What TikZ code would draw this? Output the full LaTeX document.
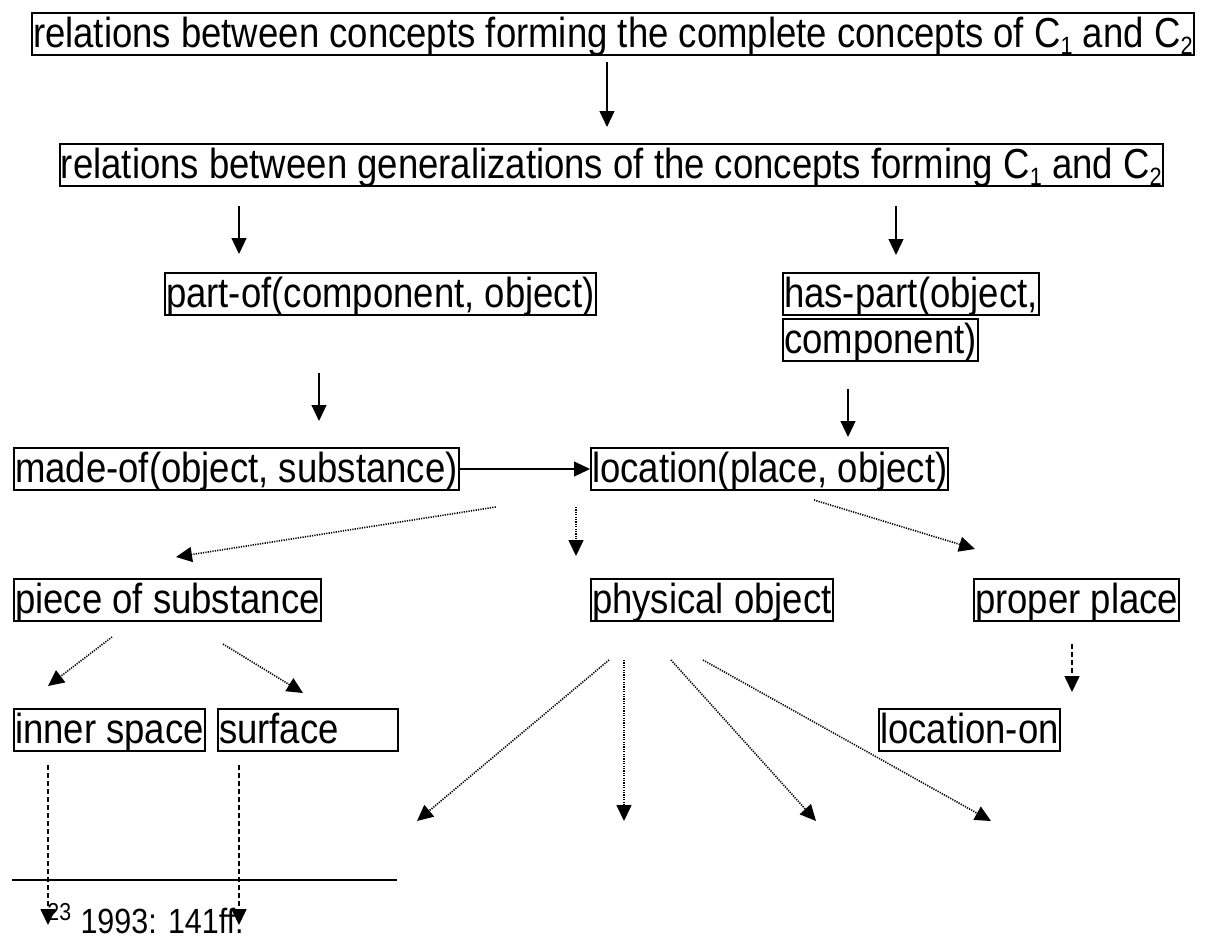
\documentclass[tikz,border=0pt]{standalone}
\usepackage{fontspec}
\setmainfont{Liberation Sans}[FakeStretch=0.87]
\usetikzlibrary{positioning,arrows.meta}
\newcommand{\csub}[1]{\raisebox{-0.18em}{\fontsize{12.5pt}{13pt}\selectfont #1}}
\tikzstyle{concept} = [draw=black, line width=1pt, inner xsep=0.5pt, inner ysep=0pt, text height=17pt, text depth=4pt, anchor=north west, font=\fontsize{21pt}{22pt}\selectfont]
\tikzstyle{arrow} = [line width=0.6pt, -{Triangle[length=8pt,width=7.5pt]}]
\tikzstyle{dotarrow} = [arrow, line width=0.8pt, dash pattern=on 0.6pt off 0.6pt]
\tikzstyle{dasharrow} = [arrow, line width=0.8pt, dash pattern=on 2.5pt off 1.5pt]

\begin{document}
\begin{tikzpicture}[x=0.5pt, y=-0.5pt]
    \useasboundingbox (0,0) rectangle (1205,937);
    % concept boxes
    \node[concept] (conc) at (31,12) {relations between concepts forming the complete concepts of C\csub{1} and C\csub{2}};
    \node[concept] (gen) at (59,143) {relations between generalizations of the concepts forming C\csub{1} and C\csub{2}};
    \node[concept] (partof) at (164,272) {part-of(component, object)};
    \node[concept] (hasparta) at (782,272) {has-part(object,};
    \node[concept] (haspartb) at (782,318) {component)};
    \node[concept] (madeof) at (13,447) {made-of(object, substance)};
    \node[concept] (loc) at (590,447) {location(place, object)};
    \node[concept] (piece) at (13,578) {piece of substance};
    \node[concept] (phys) at (590,578) {physical object};
    \node[concept] (proper) at (973,578) {proper place};
    \node[concept] (inner) at (13,708) {inner space};
    \node[concept, text width=89pt, align=left] (surf) at (217,708) {surface};
    \node[concept] (locon) at (878,708) {location-on};

    % open ends
    \coordinate (pa) at (417,821);
    \coordinate (pb) at (624,821);
    \coordinate (pc) at (816,821);
    \coordinate (pd) at (991,821);
    \coordinate (fa) at (48,925);
    \coordinate (fb) at (239,925);

    % solid arrows
    \draw[arrow] ([xshift=288pt,yshift=-3pt]conc.south west) -- ([xshift=274pt,yshift=8pt]gen.north west);
    \draw[arrow] ([xshift=90pt,yshift=-9.5pt]gen.south west) -- ([xshift=37.5pt,yshift=9pt]partof.north west);
    \draw[arrow] ([xshift=418.5pt,yshift=-9.5pt]gen.south west) -- ([xshift=57pt,yshift=8.5pt]hasparta.north west);
    \draw[arrow] ([xshift=77.5pt,yshift=-28.5pt]partof.south west) -- ([xshift=153pt,yshift=13pt]madeof.north west);
    \draw[arrow] ([xshift=33pt,yshift=-13.5pt]haspartb.south west) -- ([xshift=129pt,yshift=5pt]loc.north west);
    \draw[arrow] (madeof.east) -- (loc.west);

    % dotted arrows
    \draw[dotarrow] ([xshift=18pt,yshift=-8pt]madeof.south east) -- ([xshift=81.5pt,yshift=10.5pt]piece.north west);
    \draw[dotarrow] ([xshift=-7pt,yshift=-8pt]loc.south west) -- ([xshift=-7pt,yshift=11pt]phys.north west);
    \draw[dotarrow] ([xshift=112pt,yshift=-4.5pt]loc.south west) -- ([xshift=1pt,yshift=14.5pt]proper.north west);
    \draw[dotarrow] ([xshift=49.5pt,yshift=-7.5pt]piece.south west) -- ([xshift=17.5pt,yshift=11pt]inner.north west);
    \draw[dotarrow] ([xshift=105pt,yshift=-11pt]piece.south west) -- ([xshift=43pt,yshift=7.5pt]surf.north west);
    \draw[dotarrow] ([xshift=9.5pt,yshift=-19pt]phys.south west) -- (pa);
    \draw[dotarrow] ([xshift=17pt,yshift=-19pt]phys.south west) -- (pb);
    \draw[dotarrow] ([xshift=40.5pt,yshift=-19pt]phys.south west) -- (pc);
    \draw[dotarrow] ([xshift=56.5pt,yshift=-19pt]phys.south west) -- (pd);

    % dashed arrows
    \draw[dasharrow] ([xshift=49.5pt,yshift=-11pt]proper.south west) -- ([xshift=97pt,yshift=8pt]locon.north west);
    \draw[dasharrow] ([xshift=17.5pt,yshift=-6.5pt]inner.south west) -- (fa);
    \draw[dasharrow] ([xshift=11pt,yshift=-6.5pt]surf.south west) -- (fb);

    % footnote
    \draw[line width=1pt] (12,880) -- (397,880);
    \node[anchor=base west, inner sep=0pt, font=\fontsize{17.5pt}{19pt}\selectfont] (fn) at (47,933) {\textsuperscript{23} 1993: 141ff.};
\end{tikzpicture}
\end{document}
